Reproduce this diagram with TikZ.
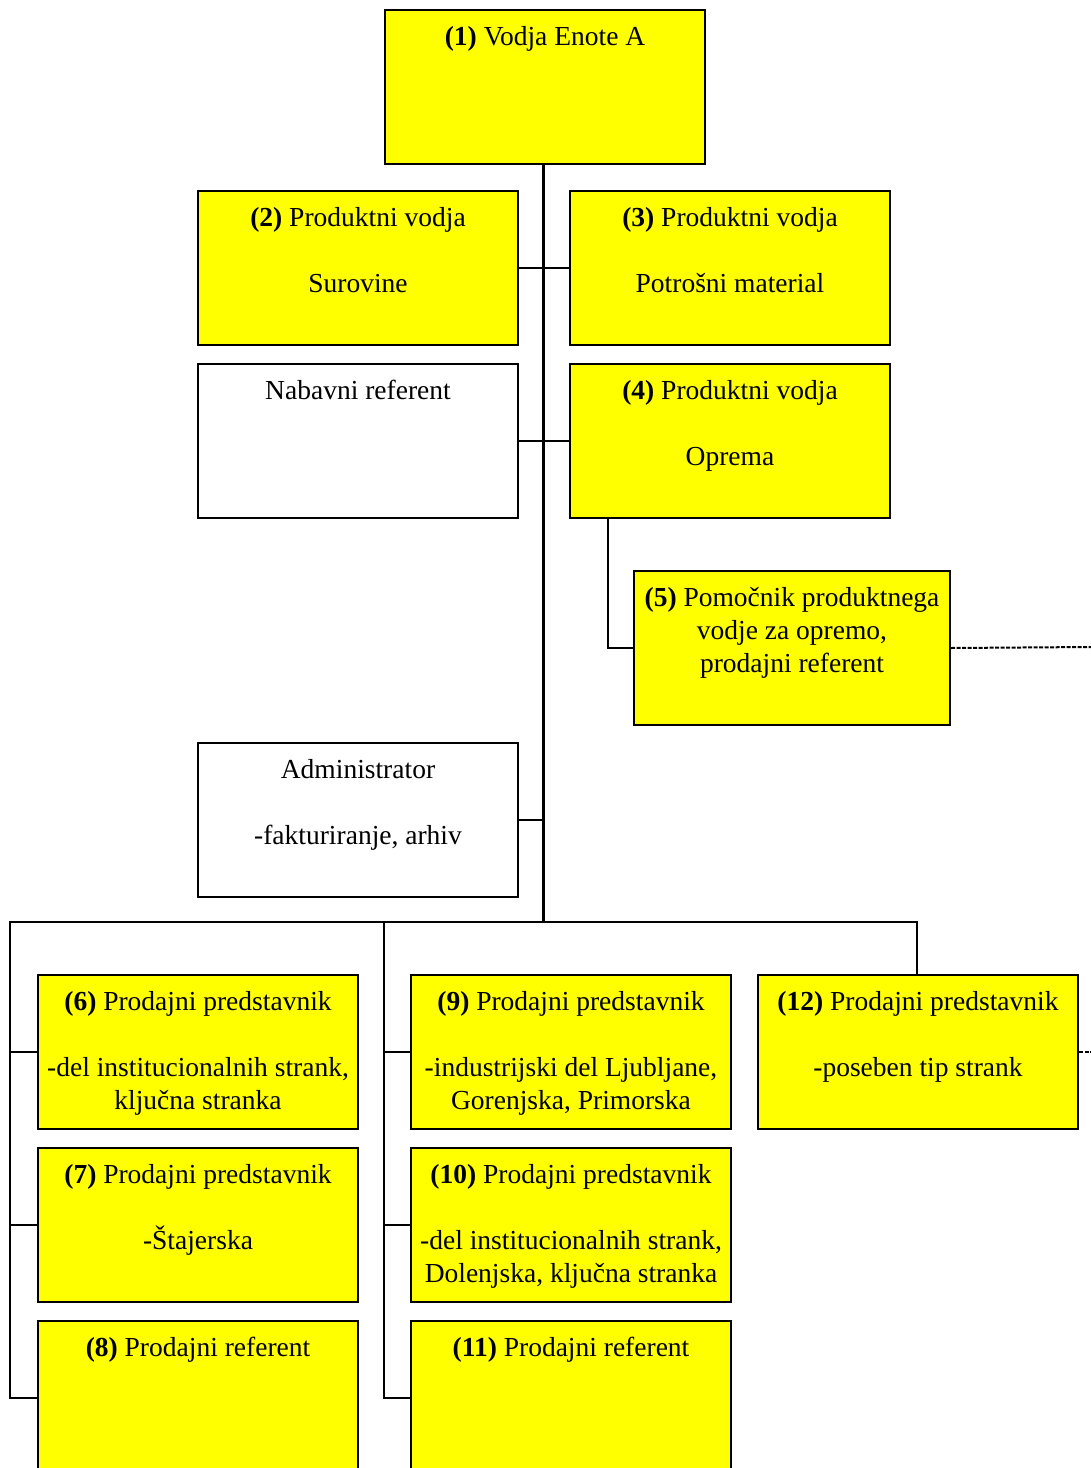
\documentclass[tikz,border=0pt]{standalone}
\usepackage{fontspec}
\setmainfont{Liberation Serif}
\usepackage{tikz}
\usepackage{xcolor}
\definecolor{unityellow}{RGB}{255,255,0}

% text of a box: top aligned, centred lines
\newcommand{\boxtxt}[2][320pt]{\parbox[t][154pt][t]{#1}{\centering\rule{0pt}{35pt}#2}}

\begin{document}
\begin{tikzpicture}[x=1pt, y=-1pt,
    unitbox/.style={draw=black, line width=2pt, fill=unityellow, inner sep=0pt,
      anchor=north west, font=\fontsize{27.5pt}{33pt}\selectfont},
    plainbox/.style={unitbox, fill=white},
    link/.style={line width=2pt, line cap=rect},
    trunk/.style={line width=3pt},
    extlink/.style={line width=2pt, dash pattern=on 4pt off 1.5pt}]
  \useasboundingbox (0,0) rectangle (1091,1468);
  \clip (0,0) rectangle (1091,1468);
  % Head of the unit
  \node[unitbox] (vodja) at (384,9) {\boxtxt{\textbf{(1)} Vodja Enote A}};
  % Product managers and staff
  \node[unitbox] (surovine) at (197,190)
    {\boxtxt{\textbf{(2)} Produktni vodja\\[33pt]Surovine}};
  \node[unitbox] (potrosni) at (569,190)
    {\boxtxt{\textbf{(3)} Produktni vodja\\[33pt]Potrošni material}};
  \node[plainbox] (nabava) at (197,363) {\boxtxt{Nabavni referent}};
  \node[unitbox] (oprema) at (569,363)
    {\boxtxt{\textbf{(4)} Produktni vodja\\[33pt]Oprema}};
  \node[unitbox] (pomocnik) at (633,570)
    {\boxtxt[316pt]{\textbf{(5)} Pomočnik produktnega\\vodje za opremo,\\prodajni referent}};
  \node[plainbox] (admin) at (197,742)
    {\boxtxt{Administrator\\[33pt]-fakturiranje, arhiv}};
  % Sales, left column
  \node[unitbox] (pred6) at (37,974)
    {\boxtxt{\textbf{(6)} Prodajni predstavnik\\[33pt]-del institucionalnih strank,\\ključna stranka}};
  \node[unitbox] (pred7) at (37,1147)
    {\boxtxt{\textbf{(7)} Prodajni predstavnik\\[33pt]-Štajerska}};
  \node[unitbox] (ref8) at (37,1320) {\boxtxt{\textbf{(8)} Prodajni referent}};
  % Sales, middle column
  \node[unitbox] (pred9) at (410,974)
    {\boxtxt{\textbf{(9)} Prodajni predstavnik\\[33pt]-industrijski del Ljubljane,\\Gorenjska, Primorska}};
  \node[unitbox] (pred10) at (410,1147)
    {\boxtxt{\textbf{(10)} Prodajni predstavnik\\[33pt]-del institucionalnih strank,\\Dolenjska, ključna stranka}};
  \node[unitbox] (ref11) at (410,1320) {\boxtxt{\textbf{(11)} Prodajni referent}};
  % Sales, right
  \node[unitbox] (pred12) at (757,974)
    {\boxtxt{\textbf{(12)} Prodajni predstavnik\\[33pt]-poseben tip strank}};

  % Bus coordinates
  \coordinate (bus) at (543,922);
  \coordinate (busl) at (10,922);
  \coordinate (busm) at (384,922);
  \coordinate (busr) at (917,922);
  \coordinate (ext5) at (1091,647);
  \coordinate (ext12) at (1091,1052);

  % Trunk and side links
  \draw[trunk] (vodja.south -| bus) -- (bus);
  \draw[link] (surovine.east) -- (potrosni.west);
  \draw[link] (nabava.east) -- (oprema.west);
  \draw[link] ([xshift=39pt]oprema.south west) |- (pomocnik.west);
  \draw[link] (admin.east) -- (admin.east -| bus);
  % Sales bus
  \draw[link] (busl) -- (busr) -- (busr |- pred12.north);
  \draw[link] (busl) |- (ref8.west);
  \draw[link] (busl |- pred6.west) -- (pred6.west);
  \draw[link] (busl |- pred7.west) -- (pred7.west);
  \draw[link] (busm) |- (ref11.west);
  \draw[link] (busm |- pred9.west) -- (pred9.west);
  \draw[link] (busm |- pred10.west) -- (pred10.west);
  % Links leaving the chart
  \draw[extlink] (pomocnik.east) -- (ext5);
  \draw[extlink] (pred12.east) -- (ext12);
\end{tikzpicture}
\end{document}
